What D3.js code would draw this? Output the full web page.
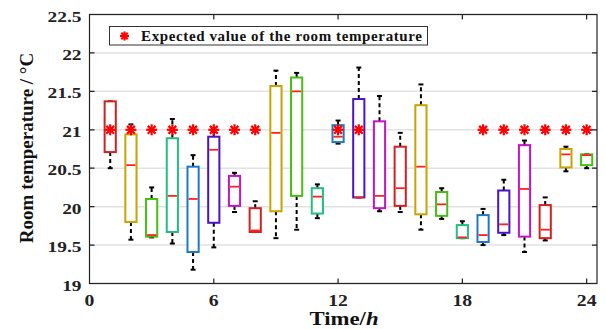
<!DOCTYPE html>
<html>
<head>
<meta charset="utf-8">
<script src="https://cdn.jsdelivr.net/npm/d3@7"></script>
<style>
  body { margin: 0; background: #fff; }
  text { font-family: "Liberation Serif", "Times New Roman", serif; font-weight: bold; }
</style>
</head>
<body>
<div id="chart"></div>
<script>
// hourly box plot data (°C)
const hours = [1, 2, 3, 4, 5, 6, 7, 8, 9, 10, 11, 12, 13, 14, 15, 16, 17, 18, 19, 20, 21, 22, 23, 24];
const whiskerLow = [20.50, 19.57, 19.60, 19.52, 19.18, 19.47, 19.93, 19.67, 19.59, 19.70, 19.85, 20.82,
  20.12, 19.94, 19.93, 19.70, 19.84, 19.59, 19.50, 19.63, 19.41, 19.56, 20.46, 20.50];
const q1 = [20.71, 19.80, 19.61, 19.67, 19.41, 19.79, 20.01, 19.67, 19.94, 20.14, 19.91, 20.84,
  20.12, 19.98, 20.01, 19.90, 19.88, 19.59, 19.54, 19.66, 19.61, 19.59, 20.51, 20.54];
const medians = [21.00, 20.54, 19.63, 20.14, 20.10, 20.74, 20.26, 19.69, 20.96, 21.50, 20.13, 20.91,
  20.12, 20.14, 20.24, 20.52, 20.03, 19.60, 19.63, 19.77, 20.23, 19.70, 20.68, 20.67];
const q3 = [21.37, 20.94, 20.10, 20.89, 20.52, 20.91, 20.40, 19.98, 21.57, 21.68, 20.24, 21.06,
  21.40, 21.11, 20.78, 21.32, 20.19, 19.76, 19.89, 20.21, 20.80, 20.02, 20.75, 20.68];
const whiskerHigh = [21.37, 21.07, 20.25, 21.14, 20.67, 20.97, 20.44, 20.07, 21.77, 21.74, 20.29, 21.12,
  21.81, 21.44, 20.96, 21.59, 20.24, 19.81, 19.97, 20.35, 20.86, 20.12, 20.78, 20.68];
const boxColors = ['#d42020', '#c8a400', '#44c010', '#20c080', '#1f78c8', '#4a14c4', '#c414c4'];

const expectedHours = [1, 2, 3, 4, 5, 6, 7, 8, 12, 13, 19, 20, 21, 22, 23, 24];
const expectedValue = 21;

const xTicks = [0, 6, 12, 18, 24];
const yTicks = [19, 19.5, 20, 20.5, 21, 21.5, 22, 22.5];

const W = 606, H = 329;
const margin = { top: 14.5, right: 9, bottom: 45.5, left: 89.5 };

const svg = d3.select('#chart').append('svg')
  .attr('width', W)
  .attr('height', H);

const x = d3.scaleLinear().domain([0, 24.5]).range([margin.left, W - margin.right]);
const y = d3.scaleLinear().domain([19, 22.5]).range([H - margin.bottom, margin.top]);

// grid
svg.append('g')
  .selectAll('line')
  .data(yTicks)
  .enter().append('line')
  .attr('x1', x(0)).attr('x2', x(24.5))
  .attr('y1', d => y(d)).attr('y2', d => y(d))
  .attr('stroke', '#e2e2e2')
  .attr('stroke-width', 1.5);

// boxes
const boxes = hours.map((h, i) => ({
  h, lo: whiskerLow[i], q1: q1[i], med: medians[i], q3: q3[i], hi: whiskerHigh[i],
  color: boxColors[i % boxColors.length]
}));
const halfW = 0.27;
const capW = 0.12;

const g = svg.append('g');
const box = g.selectAll('g.box').data(boxes).enter().append('g').attr('class', 'box');

box.filter(d => d.hi > d.q3).append('line')
  .attr('x1', d => x(d.h)).attr('x2', d => x(d.h))
  .attr('y1', d => y(d.q3)).attr('y2', d => y(d.hi))
  .attr('stroke', '#000').attr('stroke-width', 2).attr('stroke-dasharray', '4,3');
box.filter(d => d.lo < d.q1).append('line')
  .attr('x1', d => x(d.h)).attr('x2', d => x(d.h))
  .attr('y1', d => y(d.q1)).attr('y2', d => y(d.lo))
  .attr('stroke', '#000').attr('stroke-width', 2).attr('stroke-dasharray', '4,3');

box.append('line')
  .attr('x1', d => x(d.h - capW)).attr('x2', d => x(d.h + capW))
  .attr('y1', d => y(d.hi)).attr('y2', d => y(d.hi))
  .attr('stroke', '#000').attr('stroke-width', 2);
box.append('line')
  .attr('x1', d => x(d.h - capW)).attr('x2', d => x(d.h + capW))
  .attr('y1', d => y(d.lo)).attr('y2', d => y(d.lo))
  .attr('stroke', '#000').attr('stroke-width', 2);

box.append('rect')
  .attr('x', d => x(d.h - halfW))
  .attr('width', d => x(d.h + halfW) - x(d.h - halfW))
  .attr('y', d => y(d.q3))
  .attr('height', d => Math.max(y(d.q1) - y(d.q3), 1))
  .attr('fill', '#fff')
  .attr('stroke', d => d.color)
  .attr('stroke-width', 2);

box.append('line')
  .attr('x1', d => x(d.h - halfW) + 1).attr('x2', d => x(d.h + halfW) - 1)
  .attr('y1', d => y(d.med)).attr('y2', d => y(d.med))
  .attr('stroke', '#ff2020').attr('stroke-width', 1.8);

// asterisk marker
function star(sel, cx, cy, r) {
  const angles = [0, 45, 90, 135];
  sel.selectAll(null).data(angles).enter().append('line')
    .attr('x1', a => cx - r * Math.cos(a * Math.PI / 180))
    .attr('y1', a => cy - r * Math.sin(a * Math.PI / 180))
    .attr('x2', a => cx + r * Math.cos(a * Math.PI / 180))
    .attr('y2', a => cy + r * Math.sin(a * Math.PI / 180))
    .attr('stroke', '#ff0000')
    .attr('stroke-width', 2.2);
}

expectedHours.forEach(h => {
  star(svg.append('g'), x(h), y(expectedValue), 5.5);
});

// axes, MATLAB style with ticks inside
const axisG = svg.append('g');
axisG.append('rect')
  .attr('x', x(0)).attr('y', y(22.5))
  .attr('width', x(24.5) - x(0)).attr('height', y(19) - y(22.5))
  .attr('fill', 'none').attr('stroke', '#222').attr('stroke-width', 1.2);

const tl = 5;
axisG.selectAll('.xt').data(xTicks.filter(t => t > 0)).enter().append('path')
  .attr('d', d => `M${x(d)},${y(19)}v${-tl}M${x(d)},${y(22.5)}v${tl}`)
  .attr('stroke', '#222').attr('stroke-width', 1.2);
axisG.selectAll('.yt').data(yTicks.filter(t => t > 19 && t < 22.5)).enter().append('path')
  .attr('d', d => `M${x(0)},${y(d)}h${tl}M${x(24.5)},${y(d)}h${-tl}`)
  .attr('stroke', '#222').attr('stroke-width', 1.2);

// the original text is a bit wider than the font, so stretch horizontally
axisG.selectAll('.xl').data(xTicks).enter().append('text')
  .attr('transform', d => `translate(${x(d)},305.5) scale(1.16,1)`)
  .attr('text-anchor', 'middle')
  .attr('font-size', 17)
  .attr('fill', '#222')
  .text(d => d);

axisG.selectAll('.yl').data(yTicks).enter().append('text')
  .attr('transform', d => `translate(${x(0) - 8},${y(d) + 7}) scale(1.25,1)`)
  .attr('text-anchor', 'end')
  .attr('font-size', 15.5)
  .attr('fill', '#222')
  .text(d => d);

const xt = svg.append('text')
  .attr('transform', 'translate(344,324.5) scale(1.23,1)')
  .attr('text-anchor', 'middle')
  .attr('font-size', 18.5)
  .attr('fill', '#111');
xt.append('tspan').text('Time/');
xt.append('tspan').attr('font-style', 'italic').text('h');

svg.append('text')
  .attr('transform', 'translate(33,148) rotate(-90)')
  .attr('text-anchor', 'middle')
  .attr('font-size', 19)
  .attr('fill', '#111')
  .text('Room temperature / °C');

// legend
const leg = svg.append('g');
leg.append('rect')
  .attr('x', 109.5).attr('y', 26.5)
  .attr('width', 318).attr('height', 18.5)
  .attr('fill', '#fff').attr('stroke', '#333').attr('stroke-width', 1);
star(leg, 124.5, 36, 4.5);
leg.append('text')
  .attr('x', 141)
  .attr('y', 41)
  .attr('font-size', 15)
  .attr('textLength', 281)
  .attr('lengthAdjust', 'spacing')
  .attr('fill', '#111')
  .text('Expected value of the room temperature');
</script>
</body>
</html>
